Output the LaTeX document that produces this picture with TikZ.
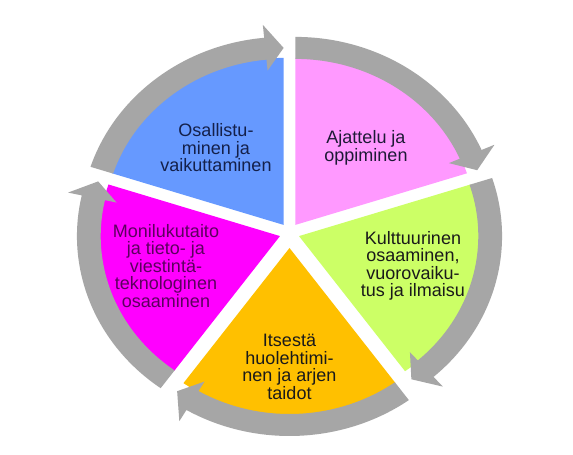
\documentclass[tikz,border=0pt]{standalone}
\usepackage{fontspec}
\setmainfont{Liberation Sans}
\definecolor{arrowgray}{HTML}{A6A6A6}
\definecolor{wblue}{HTML}{6699FF}
\definecolor{wpink}{HTML}{FF99FF}
\definecolor{wgreen}{HTML}{CCFF66}
\definecolor{wyellow}{HTML}{FFC000}
\definecolor{wmagenta}{HTML}{FF00FF}
\definecolor{tnavy}{HTML}{14204A}
\definecolor{tdark}{HTML}{1E1A36}
\definecolor{tpurple}{HTML}{5C005E}
\definecolor{tblack}{HTML}{1A1A1A}
\newcommand\cycgroup[5]{%
  \begin{scope}[shift={(289.5+#1,222+#2)}, xscale=1.08]
    \fill[#5] (0,0) -- ({#3}:167) arc[start angle={#3}, end angle={#4}, radius=167] -- cycle;
    \fill[arrowgray] ({#3}:188) arc[start angle={#3}, end angle={#4+5.5}, radius=188]
      -- ({#4+5.5}:201) -- ({#4}:177) -- ({#4+5.5}:155) -- ({#4+5.5}:166)
      arc[start angle={#4+5.5}, end angle={#3}, radius=166] -- cycle;
  \end{scope}}
\begin{document}
\begin{tikzpicture}[x=1pt,y=1pt]
\tikzset{lbl/.style={align=center, font=\fontsize{18}{17.5}\selectfont, inner sep=0pt}}
\useasboundingbox (0,0) rectangle (573,455);
\fill[white] (0,0) rectangle (573,455);
\cycgroup{-5.88}{8.09}{162}{90}{wblue}
\cycgroup{5.88}{8.09}{90}{18}{wpink}
\cycgroup{9.51}{-3.09}{18}{-54}{wgreen}
\cycgroup{0}{-15}{-54}{-126}{wyellow}
\cycgroup{-9.51}{-3.09}{234}{162}{wmagenta}
\node[lbl, text=tnavy] (osall) at (216,307) {Osallistu-\\minen ja\\vaikuttaminen};
\node[lbl, text=tdark] (ajatt) at (366,307) {Ajattelu ja\\oppiminen};
\node[lbl, text=tblack] (kultt) at (413,189) {Kulttuurinen\\osaaminen,\\vuorovaiku-\\tus ja ilmaisu};
\node[lbl, text=tblack] (itses) at (289.5,88) {Itsestä\\huolehtimi-\\nen ja arjen\\taidot};
\node[lbl, text=tpurple] (monil) at (166,189) {Monilukutaito\\ja tieto- ja\\viestintä-\\teknologinen\\osaaminen};
\end{tikzpicture}
\end{document}
